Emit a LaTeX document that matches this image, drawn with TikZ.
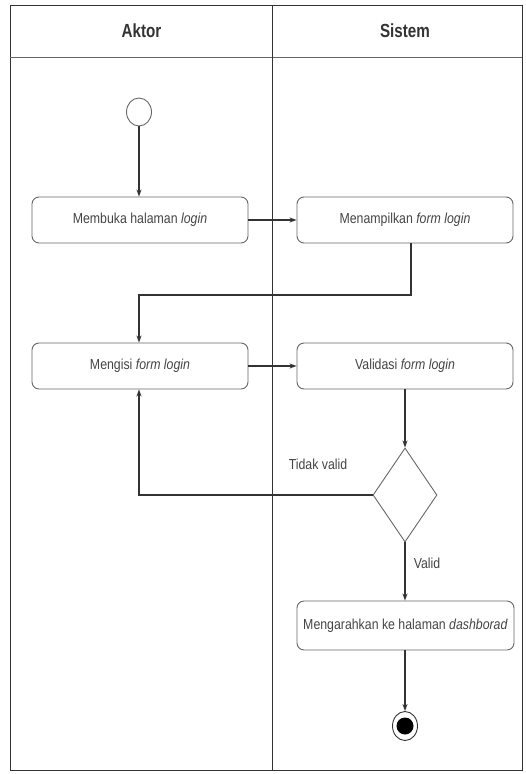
\documentclass[tikz,border=0pt]{standalone}
\usepackage{fontspec}
\setmainfont{Liberation Sans}
\newfontfamily\narrowf[FakeStretch=0.85]{Liberation Sans}
\newfontfamily\headf[FakeStretch=0.8]{Liberation Sans}
\usetikzlibrary{shapes.geometric,arrows.meta}
\definecolor{ln}{HTML}{333333}
\definecolor{bx}{HTML}{666666}
\definecolor{tx}{HTML}{444444}
\begin{document}
\begin{tikzpicture}[x=1pt,y=-1pt,
  act/.style={draw=bx,line width=0.9pt,rounded corners=7pt,minimum width=216pt,minimum height=46pt,inner sep=0pt,font=\narrowf\fontsize{14.5}{16}\selectfont,text=tx},
  flow/.style={draw=ln,line width=1.1pt,-{Stealth[length=7pt,width=5pt]}},
  lbl/.style={font=\narrowf\fontsize{14.5}{16}\selectfont,text=tx},
  head/.style={font=\headf\bfseries\fontsize{19}{22}\selectfont,text=ln}]
\useasboundingbox (0,0) rectangle (526,774);
% frame
\draw[ln,line width=0.9pt] (10,5) rectangle (522,770);
\draw[bx,line width=1pt] (10,57) -- (522,57);
\draw[ln,line width=1pt] (272,5) -- (272,770);
\node[head] (h1) at (141.5,31) {Aktor};
\node[head] (h2) at (405,31) {Sistem};
% nodes
\node[draw=bx,line width=0.9pt,ellipse,minimum width=25pt,minimum height=28pt,inner sep=0pt] (start) at (139,112) {};
\node[act] (b1) at (140,220) {Membuka halaman \textit{login}};
\node[act] (b2) at (405,220) {Menampilkan \textit{form login}};
\node[act] (b3) at (140,366) {Mengisi \textit{form login}};
\node[act] (b4) at (405,366) {Validasi \textit{form login}};
\node[draw=bx,line width=0.9pt,diamond,minimum width=64pt,minimum height=94pt,inner sep=0pt,aspect=0.68] (d) at (405,495) {};
\node[act,minimum width=217pt,minimum height=49pt] (b5) at (405.5,625.5) {Mengarahkan ke halaman \textit{dashborad}};
\node[draw=ln,line width=0.9pt,ellipse,minimum width=25pt,minimum height=29pt,inner sep=0pt] (end) at (405,726) {};
\node[fill=black,circle,minimum size=17pt,inner sep=0pt] (endin) at (405,726) {};
\coordinate (c1) at (411,295);
\coordinate (c2) at (139,295);
\coordinate (c3) at (139,495);
% edges
\draw[flow] (start) -- (b1.north -| start);
\draw[flow] (b1) -- (b2);
\draw[flow] (b2.south -| c1) -- (c1) -- (c2) -- (b3.north -| c2);
\draw[flow] (b3) -- (b4);
\draw[flow] (b4.south -| d.north) -- (d.north);
\draw[flow] (d.west) -- (c3) -- (b3.south -| c3);
\draw[flow] (d.south) -- (b5.north -| d.south);
\draw[flow] (b5.south -| end.north) -- (end.north);
\node[lbl] (t1) at (318,464) {Tidak valid};
\node[lbl] (t2) at (427,563) {Valid};
\end{tikzpicture}
\end{document}
